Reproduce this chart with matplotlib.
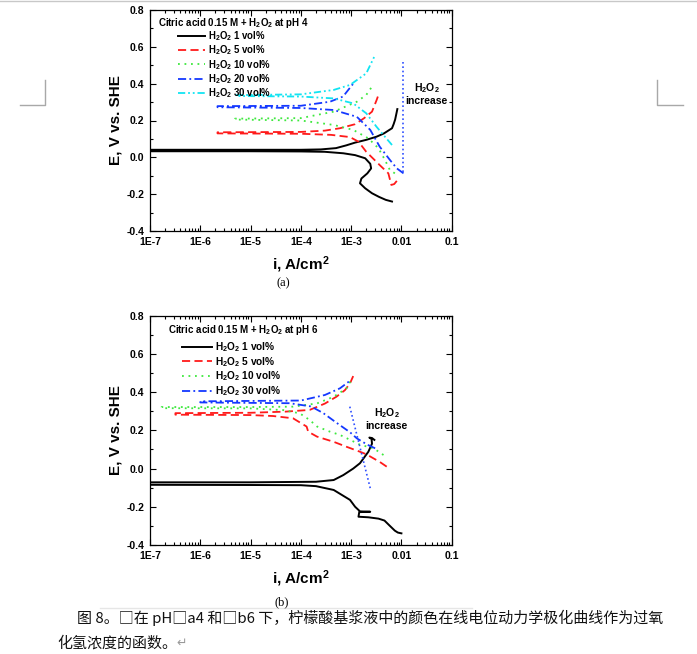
import matplotlib
matplotlib.use('Agg')
import matplotlib.pyplot as plt
from matplotlib.lines import Line2D
from matplotlib.ticker import FixedLocator, LogLocator, NullFormatter, MultipleLocator

plt.rcParams['font.family'] = ['Liberation Sans', 'DejaVu Sans']
plt.rcParams['font.weight'] = 'bold'
plt.rcParams['mathtext.fontset'] = 'custom'
plt.rcParams['mathtext.rm'] = 'Liberation Sans:bold'
plt.rcParams['mathtext.bf'] = 'Liberation Sans:bold'
plt.rcParams['mathtext.default'] = 'bf'

# ---- data (a) pH 4 : current density A/cm2, potential V vs SHE ----
ph4_i_1 = [6.5e-3, 4.9e-3, 3.6e-3, 2.6e-3, 1.9e-3, 1.5e-3, 1.6e-3, 2.1e-3, 2.5e-3, 2.4e-3,
           1.9e-3, 1.2e-3, 7e-4, 3e-4, 1e-4, 1e-5, 1e-7,
           1e-7, 1e-5, 1e-4, 2.5e-4, 5e-4, 8e-4, 1.2e-3, 2e-3, 3.2e-3, 4.5e-3, 6.5e-3, 7e-3, 7.5e-3, 8.3e-3]
ph4_e_1 = [-0.24, -0.231, -0.215, -0.195, -0.168, -0.141, -0.115, -0.087, -0.06, -0.035,
           -0.005, 0.012, 0.022, 0.03, 0.032, 0.033, 0.033,
           0.041, 0.041, 0.041, 0.043, 0.05, 0.065, 0.08, 0.095, 0.112, 0.13, 0.158, 0.18, 0.205, 0.262]

ph4_i_5 = [8.1e-3, 7.2e-3, 6.3e-3, 5.5e-3, 3.7e-3, 2.0e-3, 1.4e-3, 9.5e-4, 4e-4, 1e-4, 2.2e-6,
           2.2e-6, 1e-4, 3e-4, 6e-4, 1.2e-3, 1.8e-3, 2.6e-3, 3.2e-3, 3.4e-3]
ph4_e_5 = [-0.128, -0.145, -0.15, -0.087, -0.042, 0.03, 0.085, 0.11, 0.122, 0.128, 0.13,
           0.136, 0.138, 0.145, 0.158, 0.18, 0.212, 0.248, 0.31, 0.33]

ph4_i_10 = [7.4e-3, 5.9e-3, 4.7e-3, 3.5e-3, 2.2e-3, 1.1e-3, 4.5e-4, 1e-4, 4.9e-6,
            4.9e-6, 1e-4, 4.5e-4, 1.3e-3, 2.0e-3, 2.6e-3]
ph4_e_10 = [-0.087, -0.069, -0.014, 0.049, 0.103, 0.149, 0.176, 0.2, 0.205,
            0.21, 0.213, 0.248, 0.302, 0.339, 0.384]

ph4_i_20 = [1.1e-2, 8.1e-3, 5.9e-3, 3.7e-3, 2.4e-3, 1.3e-3, 4.5e-4, 1e-4, 2.2e-6,
            2.2e-6, 1e-4, 3.8e-4, 6.9e-4, 1.1e-3]
ph4_e_20 = [-0.087, -0.06, -0.014, 0.058, 0.149, 0.22, 0.257, 0.268, 0.272,
            0.278, 0.28, 0.302, 0.33, 0.40]

ph4_i_30 = [6.5e-3, 4.7e-3, 3.2e-3, 2.0e-3, 1.1e-3, 4.5e-4, 1e-4, 5.2e-6,
            5.2e-6, 1e-4, 4.5e-4, 9.5e-4, 2.0e-3, 3.0e-3]
ph4_e_30 = [0.067, 0.112, 0.166, 0.239, 0.293, 0.32, 0.33, 0.333,
            0.338, 0.342, 0.366, 0.393, 0.456, 0.556]

ph4_arrow_i = [1.08e-2, 1.08e-2]
ph4_arrow_e = [0.52, -0.08]

# ---- data (b) pH 6 ----
ph6_i_1 = [1.0e-2, 8.5e-3, 7.4e-3, 5.9e-3, 4.6e-3, 3.5e-3, 2.2e-3, 1.4e-3, 1.45e-3, 2.4e-3, 1.5e-3,
           1.2e-3, 9.5e-4, 4.5e-4, 2e-4, 1e-4, 1e-5, 1e-7,
           1e-7, 1e-5, 2e-4, 4.5e-4, 7e-4, 1.1e-3, 1.5e-3, 2.2e-3, 2.6e-3, 2.55e-3, 2.3e-3, 2.6e-3, 2.9e-3]
ph6_e_1 = [-0.339, -0.335, -0.325, -0.3, -0.272, -0.262, -0.255, -0.252, -0.228, -0.226, -0.224,
           -0.2, -0.164, -0.112, -0.092, -0.087, -0.086, -0.085,
           -0.072, -0.072, -0.069, -0.06, -0.034, 0.0, 0.028, 0.088, 0.13, 0.155, 0.162, 0.16, 0.15]

ph6_i_5 = [5.1e-3, 3.7e-3, 2.8e-3, 2.0e-3, 1.5e-3, 8.1e-4, 4.5e-4, 2.1e-4, 1.4e-4, 1.3e-4, 7e-5, 2.8e-5,
           1e-5, 3.2e-7,
           3.2e-7, 1e-5, 5e-5, 1.5e-4, 3e-4, 5.1e-4, 7.5e-4, 9.5e-4, 1.1e-3]
ph6_e_5 = [0.01, 0.035, 0.053, 0.075, 0.088, 0.114, 0.14, 0.167, 0.193, 0.22, 0.263, 0.275,
           0.28, 0.282,
           0.29, 0.292, 0.298, 0.307, 0.34, 0.376, 0.41, 0.446, 0.484]

ph6_i_10 = [4.4e-3, 2.8e-3, 1.5e-3, 6e-4, 3.8e-4, 2.1e-4, 1.5e-4, 9.5e-5, 4.5e-5, 1e-5, 1.7e-7,
            1.7e-7, 1e-5, 7e-5, 2.1e-4, 4.5e-4, 8.1e-4, 1e-3]
ph6_e_10 = [0.071, 0.106, 0.125, 0.176, 0.193, 0.22, 0.254, 0.289, 0.306, 0.315, 0.316,
            0.322, 0.322, 0.324, 0.341, 0.376, 0.42, 0.463]

ph6_i_30 = [3e-3, 2.1e-3, 1.3e-3, 9.5e-4, 5.1e-4, 2.8e-4, 1.6e-4, 6e-5, 1e-6,
            1e-6, 1e-4, 3e-4, 6e-4, 9e-4]
ph6_e_30 = [0.106, 0.125, 0.158, 0.19, 0.24, 0.29, 0.325, 0.342, 0.346,
            0.352, 0.356, 0.385, 0.42, 0.455]

ph6_arrow_i = [9.4e-4, 2.4e-3]
ph6_arrow_e = [0.324, -0.103]

xtick_vals = [1e-7, 1e-6, 1e-5, 1e-4, 1e-3, 1e-2, 1e-1]
xtick_labels = ['1E-7', '1E-6', '1E-5', '1E-4', '1E-3', '0.01', '0.1']
ytick_vals = [-0.4, -0.2, 0.0, 0.2, 0.4, 0.6, 0.8]
ytick_labels = ['-0.4', '-0.2', '0.0', '0.2', '0.4', '0.6', '0.8']

st = {
    1: dict(color='black', ls='-'),
    5: dict(color='#ff1a1a', ls=(0, (4.5, 2.4))),
    10: dict(color='#3ee83e', ls=(0, (1, 2.6))),
    20: dict(color='#1438ff', ls=(0, (4.5, 1.8, 1, 1.8))),
    30: dict(color='#12e4f2', ls=(0, (4, 1.6, 1, 1.6, 1, 1.6))),
}
H2O2 = r'H$_2$O$_2$'

W, H = 697, 654
fig = plt.figure(figsize=(W / 100, H / 100), dpi=100)


def px_axes(l, t, r, b):
    return fig.add_axes([l / W, 1 - b / H, (r - l) / W, (b - t) / H])


def style(ax):
    ax.set_xscale('log')
    ax.set_xlim(1e-7, 1e-1)
    ax.set_ylim(-0.4, 0.8)
    ax.xaxis.set_major_locator(FixedLocator(xtick_vals))
    ax.set_xticklabels(xtick_labels)
    ax.xaxis.set_minor_locator(LogLocator(base=10, subs=range(2, 10), numticks=20))
    ax.xaxis.set_minor_formatter(NullFormatter())
    ax.set_yticks(ytick_vals)
    ax.set_yticklabels(ytick_labels)
    ax.yaxis.set_minor_locator(MultipleLocator(0.1))
    ax.tick_params(which='both', direction='in', top=True, right=True, width=0.8,
                   labelsize=7.5, pad=4)
    ax.tick_params(which='major', length=4)
    ax.tick_params(which='minor', length=2)
    for lab in ax.get_xticklabels() + ax.get_yticklabels():
        lab.set_fontweight('bold')
    for s in ax.spines.values():
        s.set_linewidth(0.9)
    ax.set_xlabel(r'i, A/cm$^2$', fontsize=11, fontweight='bold', labelpad=6)
    ax.set_ylabel('E, V vs. SHE', fontsize=11, fontweight='bold', labelpad=3)


# (a)
ax1 = px_axes(150, 10, 451.7, 231)
ax1.plot(ph4_i_1, ph4_e_1, lw=1.4, label=H2O2 + ' 1 vol%', **st[1])
ax1.plot(ph4_i_5, ph4_e_5, lw=1.3, label=H2O2 + ' 5 vol%', **st[5])
ax1.plot(ph4_i_10, ph4_e_10, lw=1.3, label=H2O2 + ' 10 vol%', **st[10])
ax1.plot(ph4_i_20, ph4_e_20, lw=1.3, label=H2O2 + ' 20 vol%', **st[20])
ax1.plot(ph4_i_30, ph4_e_30, lw=1.3, label=H2O2 + ' 30 vol%', **st[30])
ax1.plot(ph4_arrow_i, ph4_arrow_e, color='#3050ff', lw=1.2, ls=(0, (1, 1.6)))
style(ax1)
ax1.text(0.027, 0.941, 'Citric acid 0.15 M + ' + H2O2 + ' at pH 4', transform=ax1.transAxes,
         fontsize=7, fontweight='bold', va='center', ha='left')
leg1 = ax1.legend(loc='upper left', bbox_to_anchor=(0.093, 0.913), frameon=False, fontsize=6.9,
                  handlelength=2.8, handletextpad=0.3, labelspacing=0.05, borderpad=0, borderaxespad=0)
for t in leg1.get_texts():
    t.set_fontweight('bold')
ax1.text(0.032, 0.345, H2O2 + '\nincrease', fontsize=7.5, fontweight='bold', ha='center', va='center',
         linespacing=1.1)

# (b)
ax2 = px_axes(150, 315.7, 451.7, 545)
ax2.plot(ph6_i_1, ph6_e_1, lw=1.4, label=H2O2 + ' 1 vol%', **st[1])
ax2.plot(ph6_i_5, ph6_e_5, lw=1.3, label=H2O2 + ' 5 vol%', **st[5])
ax2.plot(ph6_i_10, ph6_e_10, lw=1.3, label=H2O2 + ' 10 vol%', **st[10])
ax2.plot(ph6_i_30, ph6_e_30, lw=1.3, label=H2O2 + ' 30 vol%', **st[20])
ax2.plot(ph6_arrow_i, ph6_arrow_e, color='#3050ff', lw=1.2, ls=(0, (1, 1.6)))
style(ax2)
ax2.text(0.06, 0.938, 'Citric acid 0.15 M + ' + H2O2 + ' at pH 6', transform=ax2.transAxes,
         fontsize=7, fontweight='bold', va='center', ha='left')
leg2 = ax2.legend(loc='upper left', bbox_to_anchor=(0.105, 0.893), frameon=False, fontsize=7.3,
                  handlelength=3.0, handletextpad=0.3, labelspacing=0.08, borderpad=0, borderaxespad=0)
for t in leg2.get_texts():
    t.set_fontweight('bold')
ax2.text(5.1e-3, 0.26, H2O2 + '\nincrease', fontsize=7.5, fontweight='bold', ha='center', va='center',
         linespacing=1.1)

# panel labels
fig.text(283 / W, 1 - 283 / H, '(a)', fontsize=9, family='Liberation Serif', weight='normal',
         ha='center', va='center')
fig.text(282 / W, 1 - 602 / H, '(b)', fontsize=9, family='Liberation Serif', weight='normal',
         ha='center', va='center')

# page decorations
gray = '#a8a8a8'
def px_line(xs, ys, color=gray, lw=1.0):
    fig.add_artist(Line2D([x / W for x in xs], [1 - y / H for y in ys], color=color, lw=lw,
                          transform=fig.transFigure))

px_line([0, W], [1, 1], color='#c8c8c8')
px_line([20, 45, 45], [105, 105, 80])
px_line([683, 657, 657], [105, 105, 80])
px_line([100, 472], [608, 608], color='#e6e6e6')

cjk = ['Noto Sans CJK SC', 'DejaVu Sans']
fig.text(77 / W, 1 - 618 / H, '图 8。□在 pH□a4 和□b6 下，柠檬酸基浆液中的颜色在线电位动力学极化曲线作为过氧',
         fontsize=10.8, family=cjk, weight='normal', ha='left', va='center', color='#111111')
fig.text(57 / W, 1 - 643 / H, '化氢浓度的函数。', fontsize=10.8, family=cjk, weight='normal',
         ha='left', va='center', color='#111111')
fig.text(176 / W, 1 - 643 / H, '↵', fontsize=9, family=['DejaVu Sans'], weight='normal',
         ha='left', va='center', color='#999999')

fig.savefig('out.png', dpi=100)
